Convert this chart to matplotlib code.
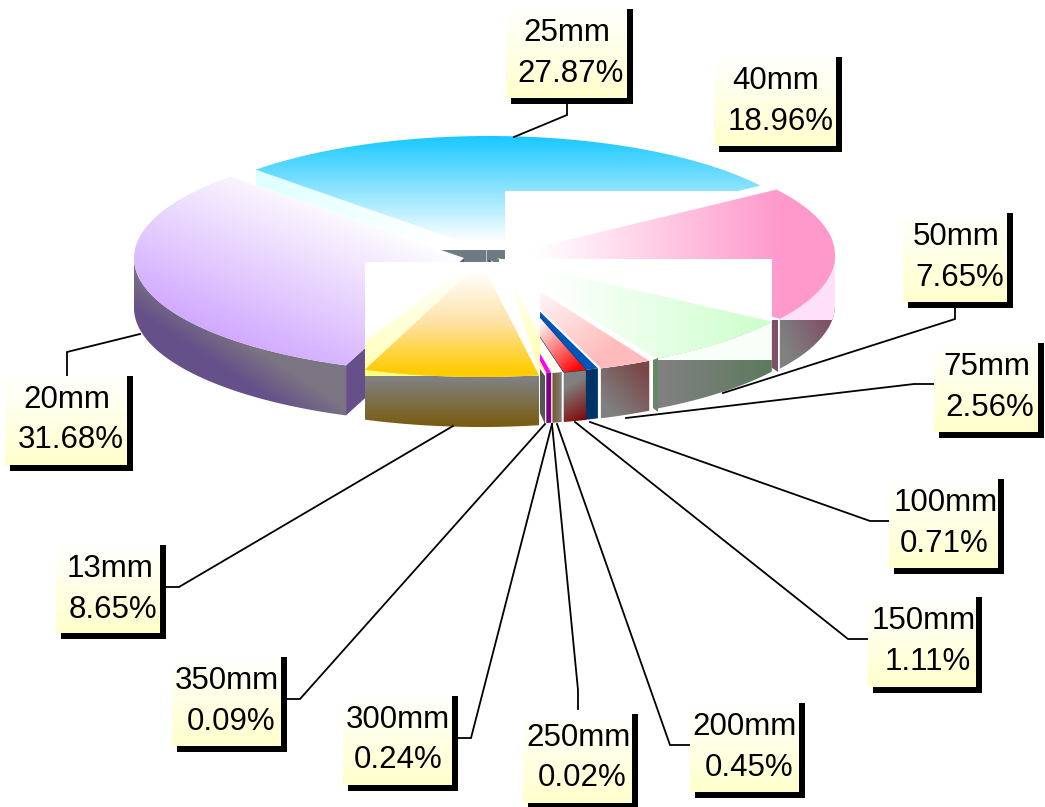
import numpy as np
import matplotlib
matplotlib.use("Agg")
import matplotlib.pyplot as plt
from matplotlib.colors import to_rgb
from matplotlib.patches import Polygon, Rectangle

categories = ["25mm", "40mm", "50mm", "75mm", "100mm", "150mm", "200mm",
              "250mm", "300mm", "350mm", "13mm", "20mm"]
values = [27.87, 18.96, 7.65, 2.56, 0.71, 1.11, 0.45, 0.02, 0.24, 0.09, 8.65, 31.68]

plt.rcParams["font.family"] = ["Liberation Sans", "DejaVu Sans"]

START = 135
RX, RY = 330, 115
DEPTH = 50

fig = plt.figure(figsize=(10.45, 8.07), dpi=100)
ax = fig.add_axes([0, 0, 1, 1])
ax.axis("off")

# pie angles, going clockwise from the start angle
shares = np.array(values) / sum(values) * 360
ends = START - np.cumsum(shares)
starts = ends + shares
a0 = dict(zip(categories, starts))
a1 = dict(zip(categories, ends))


def arc(apex, start, end, drop=0):
    t = np.radians(np.linspace(start, end, 80))
    return np.column_stack([apex[0] + RX * np.cos(t), apex[1] - RY * np.sin(t) + drop])


z = [1]
def ax_z():
    z[0] += 1
    return z[0]


def grad(poly, c0, c1, p0, p1, clip_y=None, mid=None):
    # linear gradient from p0 to p1, cut out by the polygon
    poly = np.asarray(poly)
    x0, y0 = np.floor(poly.min(axis=0))
    x1, y1 = np.ceil(poly.max(axis=0))
    if clip_y is not None:
        y1 = min(y1, clip_y)
        if y1 <= y0:
            return
    xs, ys = np.meshgrid(np.arange(x0, x1 + 1), np.arange(y0, y1 + 1))
    d = np.array(p1, float) - np.array(p0, float)
    t = np.clip(((xs - p0[0]) * d[0] + (ys - p0[1]) * d[1]) / (d @ d), 0, 1)
    stops = [to_rgb(c0), to_rgb(c1)] if mid is None else [to_rgb(c0), to_rgb(mid), to_rgb(c1)]
    pos = np.linspace(0, 1, len(stops))
    rgb = np.dstack([np.interp(t, pos, [s[i] for s in stops]) for i in range(3)])
    im = ax.imshow(rgb, extent=(x0 - 0.5, x1 + 0.5, y1 + 0.5, y0 - 0.5), aspect="auto",
                   interpolation="bilinear", zorder=ax_z())
    im.set_clip_path(Polygon(poly, closed=True, transform=ax.transData))


def flat(poly, color, edge="none", lw=0):
    ax.add_patch(Polygon(poly, closed=True, facecolor=color, edgecolor=edge, lw=lw, zorder=ax_z()))


def white_box(x0, y0, x1, y1):
    ax.add_patch(Rectangle((x0, y0), x1 - x0, y1 - y0, facecolor="white", edgecolor="none", zorder=ax_z()))


def top_poly(name, apex):
    return np.vstack([[apex], arc(apex, a0[name], a1[name])])


def rim_poly(name, apex):
    s = min(a0[name], 0)
    e = max(a1[name], -180)
    return np.vstack([arc(apex, s, e), arc(apex, e, s, DEPTH)])


# 25mm
ap = (489, 251)
grad([(256, 169), (489, 251), (489, 266), (256, 185)], "#DCFFFF", "#FFFFFF", (256, 0), (430, 0))
grad(top_poly("25mm", ap), "#19C8FF", "#FFFFFF", (0, 137), (0, 242))
flat([(440, 250), (505, 250), (505, 262), (440, 262)], "#6E7B80")
ax.plot([486, 486], [250, 262], color="#B8C0C4", lw=0.8, zorder=ax_z())

# 40mm
ap = (505, 255)
white_box(505, 191, 837, 320)
rim = rim_poly("40mm", ap)
grad(rim, "#808080", "#7E4F65", (785, 345), (830, 325))
grad(rim, "#FFE0F8", "#FFE0F8", (0, 0), (0, 1), clip_y=319.5)
grad(top_poly("40mm", ap), "#FFFFFF", "#FF99CC", (535, 0), (780, 0))
flat([(772, 320), (778, 320), (778, 372), (772, 368)], "#80506A")

# 20mm
ap = (464, 258)
rim = rim_poly("20mm", ap)
grad(rim, "#7B7583", "#66508A", (-82.5, 124.5), (-101.75, 153.55))
corner = arc(ap, a0["20mm"], a0["20mm"])[0]
flat([corner, corner + (0, DEPTH), (ap[0], ap[1] + DEPTH), ap], "#66508A")
grad(top_poly("20mm", ap), "#FFFFFF", "#CFA4FF", (232, 154), (158, 320))

# 50mm
ap = (497, 258)
white_box(499, 259, 772, 360)
rim = rim_poly("50mm", ap)
grad(rim, "#808080", "#5E7A5E", (665, 0), (770, 0))
grad(rim, "#F8FFF8", "#F8FFF8", (0, 0), (0, 1), clip_y=359.5)
grad(top_poly("50mm", ap), "#FFFFFF", "#CCFFCC", (545, 0), (770, 0))
flat([(653, 360), (658, 358), (658, 412), (653, 408)], "#668866")

# 75mm
ap = (490, 260)
rim = rim_poly("75mm", ap)
grad(rim, "#808080", "#7A4545", (610, 410), (650, 375))
flat(top_poly("75mm", ap), "#FFFFFF")
grad(top_poly("75mm", ap), "#FFFFFF", "#FFBBBB", (545, 270), (610, 350))

# 100mm
ap = (487, 260)
flat(rim_poly("100mm", ap), "#003366")
flat(top_poly("100mm", ap), "#0055BB")

# 150mm
ap = (489, 260)
grad(rim_poly("150mm", ap), "#808080", "#800000", (570, 385), (590, 420))
flat(top_poly("150mm", ap), "#FFFFFF", "#003366", 0.8)
grad(top_poly("150mm", ap), "#FFFFFF", "#FF0000", (535, 325), (575, 372))

# 200mm
ap = (487, 260)
grad(rim_poly("200mm", ap), "#7A5A30", "#808080", (553, 0), (561, 0))
flat(top_poly("200mm", ap), "#FFFDF0")

# 250mm
flat(rim_poly("250mm", ap), "#808080")
flat(top_poly("250mm", ap), "#FFFFFF")

# 300mm
ap = (486, 260)
flat(rim_poly("300mm", ap), "#800080")
grad(top_poly("300mm", ap), "#FFFFFF", "#FF00FF", (0, 343), (0, 358))

# 350mm
flat([(540, 369), (545, 376), (545, 424), (540, 413)], "#555555")
flat(top_poly("350mm", ap), "#FFFF66")

# 13mm
ap = (481, 262)
white_box(365, 262, 540, 376)
grad([(365, 342), (470, 262), (481, 262), (365, 370)], "#FFFFFF", "#FFFFB8", (0, 270), (0, 368))
grad([(505, 268), (540, 335), (540, 372)], "#FFFFFF", "#FFFFB0", (0, 280), (0, 360))
rim = rim_poly("13mm", ap)
rim[:, 0] = np.clip(rim[:, 0], 365, 539)
grad(rim, "#808080", "#7A5C10", (0, 380), (0, 426))
grad(rim, "#FFFF80", "#FFFF80", (0, 0), (0, 1), clip_y=375.5)
top = top_poly("13mm", ap)
top[:, 0] = np.clip(top[:, 0], 365, 539)
grad(top, "#FFFFFF", "#FFCC00", (0, 272), (0, 372), mid="#FFE2A8")

# leader lines, from the label box to the slice
leaders = {
    "25mm": [(567, 104), (567, 115), (514, 137)],
    "50mm": [(955, 308), (955, 319), (723, 393)],
    "75mm": [(934, 384), (914, 384), (626, 418)],
    "100mm": [(889, 521), (870, 521), (590, 422)],
    "150mm": [(868, 639), (848, 639), (575, 422)],
    "200mm": [(690, 745), (670, 745), (557, 424)],
    "250mm": [(578, 709), (578, 690), (552, 424)],
    "300mm": [(458, 738), (471, 738), (552, 424)],
    "350mm": [(287, 699), (300, 699), (545, 424)],
    "13mm": [(166, 587), (179, 587), (453, 426)],
    "20mm": [(67, 376), (67, 352), (140, 334)],
}
for name, pts in leaders.items():
    pts = np.array(pts)
    ax.plot(pts[:, 0], pts[:, 1], color="black", lw=1.3, solid_joinstyle="miter", zorder=500)

# label boxes: left, top, right, bottom, centre of first line, centre of second line
boxes = {
    "25mm": (506, 9, 627, 98, 567, 571),
    "40mm": (714, 57, 836, 146, 776, 781),
    "50mm": (903, 213, 1007, 302, 956, 960),
    "75mm": (934, 343, 1038, 432, 987, 990),
    "100mm": (889, 479, 998, 568, 946, 944),
    "150mm": (868, 597, 976, 687, 924, 928),
    "200mm": (690, 703, 799, 792, 745, 749),
    "250mm": (523, 714, 632, 803, 578, 582),
    "300mm": (343, 696, 452, 785, 398, 398),
    "350mm": (172, 657, 281, 746, 227, 231),
    "13mm": (56, 545, 160, 633, 110, 113),
    "20mm": (5, 376, 127, 465, 67, 71),
}
z[0] = 600
for name, val in zip(categories, values):
    x0, y0, x1, y1, c1, c2 = boxes[name]
    ax.add_patch(Rectangle((x0 + 5, y0), x1 - x0 + 1, y1 - y0 + 6, facecolor="black", edgecolor="none", zorder=ax_z()))
    grad([(x0, y0), (x1, y0), (x1, y1), (x0, y1)], "#FFFFFF", "#FFFFCC", (0, y0), (0, y1))
    ax.text(c1, y0 + 24, name, ha="center", va="center", fontsize=22.5, color="black", zorder=900)
    ax.text(c2, y0 + 64.5, f"{val:.2f}%", ha="center", va="center", fontsize=22.5, color="black", zorder=900)

ax.set_xlim(0, 1045)
ax.set_ylim(807, 0)
fig.savefig("out.png", dpi=100)
